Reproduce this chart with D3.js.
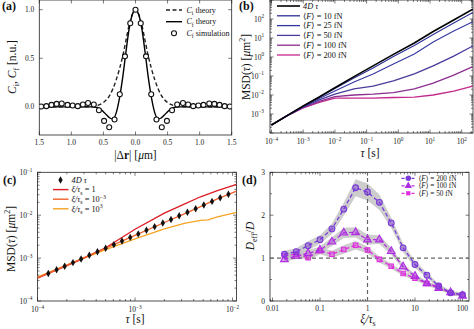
<!DOCTYPE html>
<html>
<head>
<meta charset="utf-8">
<script src="https://cdn.jsdelivr.net/npm/d3@7"></script>
<style>
  body { margin: 0; background: #fff; }
  svg { display: block; font-family: "Liberation Serif", "DejaVu Serif", serif; }
</style>
</head>
<body>
<svg id="fig" width="474" height="329"></svg>
<script>
// ---- (a) spatial correlations (one side, mirrored) ----
const rTheory = [0, 0.05, 0.1, 0.15, 0.2, 0.25, 0.3, 0.35, 0.4, 0.45, 0.5, 0.55, 0.6, 0.7, 0.8, 1.0, 1.5];
const ciTheory = [1.0, 0.95, 0.84, 0.68, 0.52, 0.39, 0.28, 0.19, 0.12, 0.075, 0.045, 0.025, 0.012, 0.003, 0, 0, 0];
const cfTheory = [1.0, 0.95, 0.8, 0.56, 0.3, 0.09, -0.06, -0.125, -0.115, -0.085, -0.05, -0.02, -0.005, 0, 0, 0, 0];
const rSim = [0, 0.082, 0.164, 0.245, 0.327, 0.41, 0.49, 0.57, 0.65, 0.74, 0.82, 0.9, 0.98, 1.06, 1.15, 1.23, 1.31, 1.39, 1.47];
const cfSim = [1.0, 0.86, 0.52, 0.13, -0.13, -0.21, -0.145, -0.035, 0.024, 0.04, 0.024, 0.007, 0.014, 0.02, 0.034, 0.03, 0.02, 0.007, 0.003];

// ---- (b) MSD vs tau for several mean forces ----
const tauB = [1e-4, 3.2e-4, 1e-3, 3.2e-3, 1e-2, 4e-2, 0.16, 0.7, 3.2, 12.6, 56, 224];
const msdFree = [2.63e-4, 8.5e-4, 2.63e-3, 7.8e-3, 0.024, 0.093, 0.34, 1.38, 5.5, 21.9, 89, 324];
const msd10 = [2.63e-4, 8.5e-4, 2.57e-3, 7.6e-3, 0.0219, 0.0776, 0.263, 1.07, 4.07, 15.1, 61.7, 219];
const msd25 = [2.63e-4, 8.3e-4, 2.45e-3, 6.6e-3, 0.0162, 0.0479, 0.129, 0.427, 1.45, 6.17, 23.4, 72.4];
const msd50 = [2.63e-4, 8.3e-4, 2.34e-3, 5.5e-3, 0.0112, 0.0209, 0.0295, 0.055, 0.129, 0.339, 1.12, 3.8];
const msd100 = [2.63e-4, 8.3e-4, 2.19e-3, 4.57e-3, 8.3e-3, 0.01, 0.0112, 0.0135, 0.0209, 0.0427, 0.112, 0.309];
const msd200 = [2.63e-4, 8.1e-4, 2.09e-3, 4.07e-3, 6.9e-3, 6.9e-3, 6.9e-3, 7.4e-3, 7.8e-3, 0.01, 0.0162, 0.0295];
const forcesB = ["10", "25", "50", "100", "200"];

// ---- (c) MSD for several xi/tau_s ----
const tauC = [1e-4, 2.5e-4, 5e-4, 1e-3, 2e-3, 3.2e-3, 4.7e-3, 5.6e-3, 7e-3, 0.011];
const msdXi1 = [3.4e-4, 8.3e-4, 1.74e-3, 4.7e-3, 0.0112, 0.0182, 0.0269, 0.0309, 0.0372, 0.0525];
const msdXiSmall = [3.47e-4, 8.5e-4, 1.7e-3, 3.39e-3, 6.76e-3, 0.0107, 0.0158, 0.0191, 0.024, 0.0363];
const msdXiLarge = [3.63e-4, 8.5e-4, 1.58e-3, 2.82e-3, 4.79e-3, 6.46e-3, 7.59e-3, 7.76e-3, 9.12e-3, 0.0117];
const tauDiamond = [1.29e-4, 1.57e-4, 1.9e-4, 2.31e-4, 2.8e-4, 3.4e-4, 4.12e-4, 5.0e-4, 6.07e-4, 7.36e-4, 8.93e-4,
  1.08e-3, 1.31e-3, 1.59e-3, 1.93e-3, 2.34e-3, 2.84e-3, 3.45e-3, 4.19e-3, 5.08e-3, 6.17e-3, 7.48e-3, 9.08e-3];
const msdDiamond = [4.39e-4, 5.34e-4, 6.46e-4, 7.85e-4, 9.52e-4, 1.16e-3, 1.4e-3, 1.7e-3, 2.06e-3, 2.5e-3, 3.04e-3,
  3.67e-3, 4.45e-3, 5.41e-3, 6.56e-3, 7.96e-3, 9.66e-3, 0.0117, 0.0142, 0.0173, 0.021, 0.0254, 0.0309];

// ---- (d) effective diffusion ----
const xiD = [0.0178, 0.0316, 0.0562, 0.1, 0.178, 0.316, 0.562, 1, 1.78, 3.16, 5.62, 10, 17.8, 31.6, 56.2, 100];
const dEff200 = [1.09, 1.15, 1.29, 1.43, 1.68, 2.14, 2.64, 2.54, 2.3, 1.82, 1.24, 0.85, 0.6, 0.35, 0.19, 0.15];
const dEff100 = [0.97, 1.05, 1.11, 1.19, 1.38, 1.59, 1.6, 1.43, 1.43, 1.16, 0.8, 0.58, 0.41, 0.3, 0.2, 0.12];
const dEff50 = [1.06, 1.09, 1.01, 1.17, 1.09, 1.2, 1.3, 1.19, 0.97, 0.81, 0.64, 0.53, 0.41, 0.33, 0.19, 0.14];
const err200 = [0.08, 0.08, 0.1, 0.1, 0.12, 0.15, 0.2, 0.2, 0.18, 0.12, 0.1, 0.08, 0.06, 0.05, 0.05, 0.05];
const err100 = [0.06, 0.07, 0.08, 0.08, 0.1, 0.12, 0.12, 0.12, 0.1, 0.08, 0.06, 0.05, 0.05, 0.04, 0.04, 0.04];
const err50 = [0.06, 0.06, 0.06, 0.08, 0.08, 0.1, 0.1, 0.08, 0.07, 0.06, 0.05, 0.05, 0.04, 0.04, 0.04, 0.04];

const colB = { "10": "#2c2f96", "25": "#3436a0", "50": "#4b3b9c", "100": "#8a2e90", "200": "#c4288c" };
const colC = { one: "#dc1c24", small: "#f0602a", large: "#f6a323" };
const colD = { "200": "#7b3bd8", "100": "#b02ee2", "50": "#e02ee0" };

const FS = 7.5;
const svg = d3.select("#fig");

// rich text with italic / bold / sub / sup tspans
function rich(text, parts, fs) {
  let shift = 0;
  parts.forEach(([s, st = ""]) => {
    const tags = st.split(" ");
    const target = tags.includes("sub") ? 0.28 * fs : tags.includes("sup") ? -0.42 * fs : 0;
    const t = text.append("tspan").text(s).attr("dy", target - shift);
    if (tags.includes("sub") || tags.includes("sup")) t.attr("font-size", fs * 0.7);
    if (tags.includes("it")) t.attr("font-style", "italic");
    if (tags.includes("bf")) t.attr("font-weight", "bold");
    shift = target;
  });
  return text;
}

function label(g, x, y, parts, fs, opts = {}) {
  const t = g.append("text").attr("x", x).attr("y", y).attr("font-size", fs)
    .attr("fill", "#111").attr("text-anchor", opts.anchor || "start");
  if (opts.rotate) t.attr("transform", `rotate(${opts.rotate},${x},${y})`);
  return rich(t, parts, fs);
}

const powLabel = (t, v) => {
  const e = Math.round(Math.log10(v));
  rich(t, [["10"], [e < 0 ? "\u2212" + (-e) : String(e), "sup"]], FS);
};

function logTicks(scale) {
  const [a, b] = scale.domain();
  const major = [], minor = [];
  for (let e = Math.floor(Math.log10(a)); e <= Math.ceil(Math.log10(b)); e++) {
    major.push(10 ** e);
    for (let k = 2; k < 10; k++) minor.push(k * 10 ** e);
  }
  return { major, minor };
}

function drawAxes(g, x, y, o) {
  const [x0, x1] = x.range(), [y0, y1] = y.range();
  const inX = (v) => x(v) >= x0 - 0.3 && x(v) <= x1 + 0.3;
  const inY = (v) => y(v) <= y0 + 0.3 && y(v) >= y1 - 0.3;
  const segs = [];
  const addX = (vals, len) => vals.filter(inX).forEach((v) => {
    segs.push([x(v), y0, x(v), y0 - len], [x(v), y1, x(v), y1 + len]);
  });
  const addY = (vals, len) => vals.filter(inY).forEach((v) => {
    segs.push([x0, y(v), x0 + len, y(v)], [x1, y(v), x1 - len, y(v)]);
  });
  addX(o.xMajor, 3.5); addX(o.xMinor || [], 2);
  addY(o.yMajor, 3.5); addY(o.yMinor || [], 2);

  g.append("g").attr("stroke", "#222").attr("stroke-width", 0.6)
    .selectAll("line").data(segs).join("line")
    .attr("x1", (d) => d[0]).attr("y1", (d) => d[1])
    .attr("x2", (d) => d[2]).attr("y2", (d) => d[3]);

  g.append("rect").attr("x", x0).attr("y", y1).attr("width", x1 - x0).attr("height", y0 - y1)
    .attr("fill", "none").attr("stroke", "#222").attr("stroke-width", 0.8);

  g.append("g").selectAll("text").data(o.xLabels).join("text")
    .attr("x", (d) => x(d) + (o.xShift ? o.xShift(d) : 0)).attr("y", y0 + o.xOff)
    .attr("text-anchor", "middle").attr("font-size", FS).attr("fill", "#222")
    .each(function (d) { o.xFmt(d3.select(this), d); });

  g.append("g").selectAll("text").data(o.yLabels).join("text")
    .attr("x", x0 - o.yOff).attr("y", (d) => y(d) + FS * 0.35)
    .attr("text-anchor", "end").attr("font-size", FS).attr("fill", "#222")
    .each(function (d) { o.yFmt(d3.select(this), d); });
}

function clipFor(id, x, y) {
  const [x0, x1] = x.range(), [y0, y1] = y.range();
  svg.append("clipPath").attr("id", id).append("rect")
    .attr("x", x0).attr("y", y1).attr("width", x1 - x0).attr("height", y0 - y1);
  return `url(#${id})`;
}

// =================== (a) ===================
{
  const g = svg.append("g");
  const x = d3.scaleLinear().domain([-1.5, 1.5]).range([39.3, 231.7]);
  const y = d3.scaleLinear().domain([-0.29, 1.1]).range([135, 0]);
  const mirror = (r, v) => r.slice(1).map((d, i) => [-d, v[i + 1]]).reverse()
    .concat(r.map((d, i) => [d, v[i]]));
  const line = d3.line().x((d) => x(d[0])).y((d) => y(d[1])).curve(d3.curveMonotoneX);
  const clip = clipFor("clipA", x, y);

  drawAxes(g, x, y, {
    xMajor: [-1.5, -1, -0.5, 0, 0.5, 1, 1.5], yMajor: [0, 0.5, 1],
    xLabels: [-1.5, -1, -0.5, 0, 0.5, 1, 1.5], yLabels: [0, 0.5, 1],
    xOff: 10, yOff: 5,
    xFmt: (t, v) => t.text(Math.abs(v).toFixed(1)),
    yFmt: (t, v) => t.text(v.toFixed(1)),
  });

  const plot = g.append("g").attr("clip-path", clip);
  plot.append("path").attr("d", line(mirror(rTheory, ciTheory)))
    .attr("fill", "none").attr("stroke", "#222").attr("stroke-width", 1.4).attr("stroke-dasharray", "4,2.5");
  plot.append("path").attr("d", line(mirror(rTheory, cfTheory)))
    .attr("fill", "none").attr("stroke", "#000").attr("stroke-width", 1.4);
  plot.selectAll("circle").data(mirror(rSim, cfSim)).join("circle")
    .attr("cx", (d) => x(d[0])).attr("cy", (d) => y(d[1])).attr("r", 2.5)
    .attr("fill", "#fff").attr("stroke", "#111").attr("stroke-width", 1.1);

  // legend
  const lg = g.append("g");
  const rows = [10, 21.7, 33.3];
  lg.append("line").attr("x1", 166).attr("x2", 182).attr("y1", rows[0]).attr("y2", rows[0])
    .attr("stroke", "#222").attr("stroke-width", 1.4).attr("stroke-dasharray", "4,2.5");
  lg.append("line").attr("x1", 166).attr("x2", 182).attr("y1", rows[1]).attr("y2", rows[1])
    .attr("stroke", "#000").attr("stroke-width", 1.4);
  lg.append("circle").attr("cx", 174).attr("cy", rows[2]).attr("r", 2.5)
    .attr("fill", "#fff").attr("stroke", "#111").attr("stroke-width", 1.1);
  label(lg, 186.5, rows[0] + 2.7, [["C", "it"], ["i", "sub"], [" theory"]], 8);
  label(lg, 186.5, rows[1] + 2.7, [["C", "it"], ["f", "sub"], [" theory"]], 8);
  label(lg, 186.5, rows[2] + 2.7, [["C", "it"], ["f", "sub"], [" simulation"]], 8);

  label(g, 135.5, 159, [["|\u0394"], ["r", "bf"], ["| ["], ["\u03bc", "it"], ["m]"]], 11.5, { anchor: "middle" });
  label(g, 16, 67, [["C", "it"], ["i", "sub"], [", "], ["C", "it"], ["f", "sub"], [" [n.u.]"]], 11.5,
    { anchor: "middle", rotate: -90 });
  label(g, 2, 10, [["(a)", "bf"]], 12);
}

// =================== (b) ===================
{
  const g = svg.append("g");
  const x = d3.scaleLog().domain([10 ** -4.047, 10 ** 2.356]).range([270, 473]);
  const y = d3.scaleLog().domain([1e-4, 1e3]).range([133, 0]);
  const lt = logTicks(x), ltY = logTicks(y);
  drawAxes(g, x, y, {
    xMajor: lt.major, xMinor: lt.minor, yMajor: ltY.major, yMinor: ltY.minor,
    xLabels: [1e-4, 1e-3, 1e-2, 1e-1, 1, 10, 100], yLabels: [1e-3, 1e-2, 1e-1, 1, 10, 100],
    xOff: 11, yOff: 6, xFmt: powLabel, yFmt: powLabel,
  });
  const clip = clipFor("clipB", x, y);
  const line = d3.line().x((d) => x(d[0])).y((d) => y(d[1]));
  const series = { "10": msd10, "25": msd25, "50": msd50, "100": msd100, "200": msd200 };
  const plot = g.append("g").attr("clip-path", clip);
  plot.selectAll(".force").data(forcesB.slice().reverse()).join("path")
    .attr("class", "force")
    .attr("d", (f) => line(tauB.map((t, i) => [t, series[f][i]])))
    .attr("fill", "none").attr("stroke", (f) => colB[f])
    .attr("stroke-width", (f) => (+f >= 50 ? 1.3 : 1.1));
  plot.append("path").attr("d", line(tauB.map((t, i) => [t, msdFree[i]])))
    .attr("fill", "none").attr("stroke", "#000").attr("stroke-width", 1.6);

  // legend
  const y0 = 6, dy = 9.8;
  const entries = [{ c: "#000", w: 1.6 }].concat(forcesB.map((f) => ({ c: colB[f], w: 1.3, f })));
  g.append("g").selectAll("line").data(entries).join("line")
    .attr("x1", 277).attr("x2", 300).attr("y1", (d, i) => y0 + i * dy).attr("y2", (d, i) => y0 + i * dy)
    .attr("stroke", (d) => d.c).attr("stroke-width", (d) => d.w);
  entries.forEach((d, i) => {
    const parts = d.f ? [["\u27e8"], ["F", "it"], ["\u27e9 = " + d.f + " fN"]] : [["4", "it"], ["D", "it"], [" \u03c4", "it"]];
    label(g, 303, y0 + i * dy + 2.8, parts, 8.3);
  });

  label(g, 370, 157, [["\u03c4", "it"], [" [s]"]], 11.5, { anchor: "middle" });
  label(g, 250, 67, [["MSD("], ["\u03c4", "it"], [") ["], ["\u03bc", "it"], ["m"], ["2", "sup"], ["]"]], 11.5,
    { anchor: "middle", rotate: -90 });
  label(g, 239, 10, [["(b)", "bf"]], 12);
}

// =================== (c) ===================
{
  const g = svg.append("g");
  const x = d3.scaleLog().domain([1e-4, 10 ** -1.959]).range([37.5, 236.5]);
  const y = d3.scaleLog().domain([1e-4, 1e-1]).range([301, 172.3]);
  const lt = logTicks(x), ltY = logTicks(y);
  drawAxes(g, x, y, {
    xMajor: lt.major, xMinor: lt.minor, yMajor: ltY.major, yMinor: ltY.minor,
    xLabels: [1e-4, 1e-3, 1e-2], yLabels: [1e-4, 1e-3, 1e-2, 1e-1],
    xOff: 11, yOff: 5, xFmt: powLabel, yFmt: powLabel,
  });
  const clip = clipFor("clipC", x, y);
  const line = d3.line().x((d) => x(d[0])).y((d) => y(d[1]));
  const plot = g.append("g").attr("clip-path", clip);
  const curves = [
    { v: msdXiLarge, c: colC.large },
    { v: msdXi1, c: colC.one },
    { v: msdXiSmall, c: colC.small },
  ];
  plot.selectAll(".xi").data(curves).join("path").attr("class", "xi")
    .attr("d", (d) => line(tauC.map((t, i) => [t, d.v[i]])))
    .attr("fill", "none").attr("stroke", (d) => d.c).attr("stroke-width", 1.3);
  const diamond = d3.symbol().type(d3.symbolDiamond).size(16);
  plot.selectAll(".dm").data(tauDiamond.map((t, i) => [t, msdDiamond[i]])).join("path").attr("class", "dm")
    .attr("d", diamond).attr("transform", (d) => `translate(${x(d[0])},${y(d[1])})`)
    .attr("fill", "#111");

  // legend
  const ys = [180, 189.6, 199.2, 208.8];
  g.append("path").attr("d", diamond).attr("transform", `translate(60.5,${ys[0]})`).attr("fill", "#111");
  [colC.one, colC.small, colC.large].forEach((c, i) => {
    g.append("line").attr("x1", 53).attr("x2", 68.5).attr("y1", ys[i + 1]).attr("y2", ys[i + 1])
      .attr("stroke", c).attr("stroke-width", 1.4);
  });
  const xiPart = [["\u03be/\u03c4", "it"], ["s", "sub"]];
  label(g, 71.5, ys[0] + 2.8, [["4", "it"], ["D", "it"], [" \u03c4", "it"]], 8.3);
  label(g, 71.5, ys[1] + 2.8, xiPart.concat([[" = 1"]]), 8.3);
  label(g, 71.5, ys[2] + 2.8, xiPart.concat([[" = 10"], ["\u22123", "sup"]]), 8.3);
  label(g, 71.5, ys[3] + 2.8, xiPart.concat([[" = 10"], ["3", "sup"]]), 8.3);

  label(g, 135, 323, [["\u03c4", "it"], [" [s]"]], 11.5, { anchor: "middle" });
  label(g, 15, 239, [["MSD("], ["\u03c4", "it"], [") ["], ["\u03bc", "it"], ["m"], ["2", "sup"], ["]"]], 11.5,
    { anchor: "middle", rotate: -90 });
  label(g, 3, 184, [["(c)", "bf"]], 12);
}

// =================== (d) ===================
{
  const g = svg.append("g");
  const x = d3.scaleLog().domain([10 ** -2.053, 10 ** 2.137]).range([270, 469]);
  const y = d3.scaleLinear().domain([0, 3]).range([301, 172.3]);
  const lt = logTicks(x);
  drawAxes(g, x, y, {
    xMajor: lt.major, xMinor: lt.minor, yMajor: [0, 1, 2, 3], yMinor: [0.5, 1.5, 2.5],
    xLabels: [0.01, 0.1, 1, 10, 100], yLabels: [0, 1, 2, 3],
    xOff: 10, yOff: 5,
    xFmt: (t, v) => t.text(String(v)), yFmt: (t, v) => t.text(String(v)),
  });
  const clip = clipFor("clipD", x, y);
  const plot = g.append("g").attr("clip-path", clip);
  const sets = [
    { k: "50", v: dEff50, e: err50, sym: d3.symbolSquare, size: 20 },
    { k: "100", v: dEff100, e: err100, sym: d3.symbolTriangle, size: 26 },
    { k: "200", v: dEff200, e: err200, sym: d3.symbolCircle, size: 26 },
  ];
  const area = d3.area().x((d) => x(d[0])).y0((d) => y(d[1] - d[2])).y1((d) => y(d[1] + d[2]));
  const pts = (s) => xiD.map((xi, i) => [xi, s.v[i], s.e[i]]);
  plot.selectAll(".band").data(sets).join("path").attr("class", "band")
    .attr("d", (s) => area(pts(s))).attr("fill", "#bcbcbc").attr("fill-opacity", 0.75);

  // reference lines
  plot.append("line").attr("x1", x.range()[0]).attr("x2", x.range()[1]).attr("y1", y(1)).attr("y2", y(1))
    .attr("stroke", "#666").attr("stroke-width", 1.2).attr("stroke-dasharray", "4,3");
  plot.append("line").attr("x1", x(1)).attr("x2", x(1)).attr("y1", y.range()[0]).attr("y2", y.range()[1])
    .attr("stroke", "#666").attr("stroke-width", 1.2).attr("stroke-dasharray", "4,3");

  const line = d3.line().x((d) => x(d[0])).y((d) => y(d[1]));
  sets.forEach((s) => {
    plot.append("path").attr("d", line(pts(s))).attr("fill", "none")
      .attr("stroke", colD[s.k]).attr("stroke-width", 1.3).attr("stroke-dasharray", "4,2.5");
    plot.append("g").selectAll("path").data(pts(s)).join("path")
      .attr("d", d3.symbol().type(s.sym).size(s.size))
      .attr("transform", (d) => `translate(${x(d[0])},${y(d[1])})`)
      .attr("fill", colD[s.k]).attr("fill-opacity", 0.45)
      .attr("stroke", colD[s.k]).attr("stroke-width", 1.1);
  });

  // legend
  const rows = [178.3, 185.8, 193.3];
  sets.slice().reverse().forEach((s, i) => {
    g.append("line").attr("x1", 401.5).attr("x2", 415).attr("y1", rows[i]).attr("y2", rows[i])
      .attr("stroke", colD[s.k]).attr("stroke-width", 1.3).attr("stroke-dasharray", "3,2");
    g.append("path").attr("d", d3.symbol().type(s.sym).size(s.size * 0.9))
      .attr("transform", `translate(408.3,${rows[i]})`).attr("fill", colD[s.k]);
    label(g, 418.5, rows[i] + 2.4, [["\u27e8"], ["F", "it"], ["\u27e9 = " + s.k + " fN"]], 7.2);
  });

  label(g, 368, 323, [["\u03be/\u03c4", "it"], ["s", "sub"]], 11.5, { anchor: "middle" });
  label(g, 254, 236, [["D", "it"], ["eff", "sub"], ["/"], ["D", "it"]], 11.5, { anchor: "middle", rotate: -90 });
  label(g, 242, 184, [["(d)", "bf"]], 12);
}
</script>
</body>
</html>
